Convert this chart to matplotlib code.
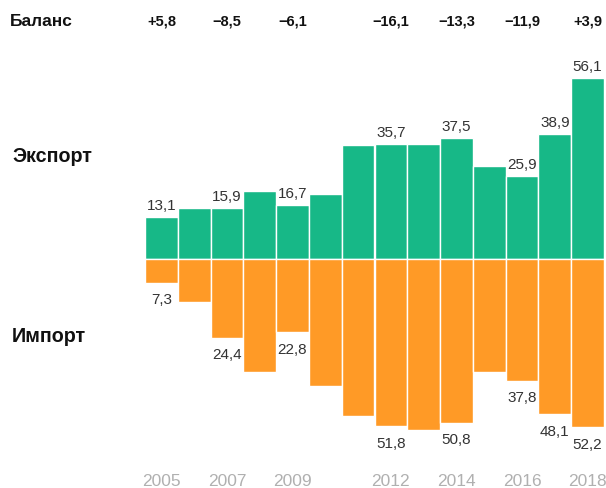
import matplotlib
matplotlib.use("Agg")
import matplotlib.pyplot as plt
import matplotlib.transforms as mtransforms

years = list(range(2005, 2019))
export = [13.1, 15.8, 15.9, 21.1, 16.7, 20.2, 35.3, 35.7, 35.6, 37.5, 28.8, 25.9, 38.9, 56.1]
imports = [7.3, 13.5, 24.4, 35.1, 22.8, 39.4, 48.7, 51.8, 53.2, 50.8, 35.1, 37.8, 48.1, 52.2]
export_labels = {0: "13,1", 2: "15,9", 4: "16,7", 7: "35,7", 9: "37,5", 11: "25,9", 12: "38,9", 13: "56,1"}
import_labels = {0: "7,3", 2: "24,4", 4: "22,8", 7: "51,8", 9: "50,8", 11: "37,8", 12: "48,1", 13: "52,2"}
balance_labels = {0: "+5,8", 2: "\u22128,5", 4: "\u22126,1", 7: "\u221216,1", 9: "\u221213,3", 11: "\u221211,9", 13: "+3,9"}
year_ticks = {0: "2005", 2: "2007", 4: "2009", 7: "2012", 9: "2014", 11: "2016", 13: "2018"}

GREEN = "#17B887"
ORANGE = "#FF9A26"
plt.rcParams['font.family'] = ['Liberation Sans', 'DejaVu Sans']

fig = plt.figure(figsize=(6.06, 4.89), dpi=100)
W, H = 606, 489
ax = fig.add_axes([145 / W, 29 / H, 459 / W, 400 / H])
ax.set_xlim(-0.5, 13.5)
ax.set_ylim(-62.1, 62.1)
ax.axis("off")

x = list(range(len(years)))
ax.bar(x, export, width=1.0, bottom=0, color=GREEN, edgecolor="white", linewidth=1.0)
ax.bar(x, [-v for v in imports], width=1.0, bottom=0, color=ORANGE, edgecolor="white", linewidth=1.0)

for i, s in export_labels.items():
    ax.annotate(s, (i, export[i]), xytext=(0, 3.5), textcoords="offset points",
                ha="center", va="bottom", fontsize=11, color="#333333")
for i, s in import_labels.items():
    ax.annotate(s, (i, -imports[i]), xytext=(0, -7), textcoords="offset points",
                ha="center", va="top", fontsize=11, color="#333333")

trans = mtransforms.blended_transform_factory(ax.transData, fig.transFigure)
for i, s in balance_labels.items():
    ax.text(i, 1 - 22 / H, s, transform=trans, ha="center", va="center",
            fontsize=10.5, fontweight="bold", color="#111111")
for i, s in year_ticks.items():
    ax.text(i, 1 - 482 / H, s, transform=trans, ha="center", va="center",
            fontsize=12.5, color="#b0b0b0")

fig.text(10 / W, 1 - 22 / H, "Баланс", ha="left", va="center", fontsize=12.5, fontweight="bold", color="#111111")
fig.text(12 / W, 1 - 157 / H, "Экспорт", ha="left", va="center", fontsize=14.2, fontweight="bold", color="#111111")
fig.text(12 / W, 1 - 336 / H, "Импорт", ha="left", va="center", fontsize=14.2, fontweight="bold", color="#111111")

fig.savefig("out.png", dpi=100)
